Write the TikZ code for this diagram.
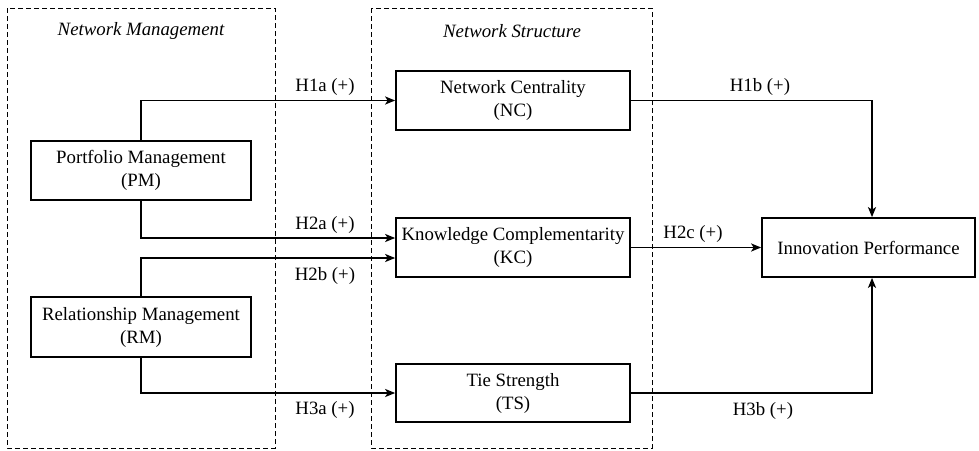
\documentclass[tikz,border=0pt]{standalone}
\usepackage{fontspec}
\setmainfont{Liberation Serif}
\newfontfamily\tnr{Liberation Serif}
\usetikzlibrary{arrows.meta}
\begin{document}
\begin{tikzpicture}[x=1pt,y=-1pt,
  box/.style={draw,line width=1.7pt,align=center,inner sep=0pt,font=\tnr\fontsize{18.8}{23}\selectfont},
  grp/.style={draw,line width=0.9pt,dash pattern=on 5pt off 3pt},
  arr/.style={line width=1.8pt,-{Stealth[length=10pt,width=8pt,inset=2.5pt]}},
  lbl/.style={font=\tnr\fontsize{18.8}{23}\selectfont,inner sep=0pt},
  ttl/.style={font=\tnr\fontsize{18.8}{23}\selectfont\itshape,inner sep=0pt}]
\useasboundingbox (0,0) rectangle (979,450);
\draw[grp] (7,8) rectangle (275,448);
\draw[grp] (371,8) rectangle (652,448);
\node[ttl] (t1) at (141,31) {Network Management};
\node[ttl] (t2) at (512,31) {Network Structure};
\node[box,minimum width=220pt,minimum height=59pt] (PM) at (141,170.5) {Portfolio Management\\(PM)};
\node[box,minimum width=220pt,minimum height=60pt] (RM) at (141,327) {Relationship Management\\(RM)};
\node[box,minimum width=234pt,minimum height=59pt] (NC) at (513,100.5) {Network Centrality\\(NC)};
\node[box,minimum width=234pt,minimum height=59pt] (KC) at (513,247.5) {Knowledge Complementarity\\(KC)};
\node[box,minimum width=234pt,minimum height=58pt] (TS) at (513,393) {Tie Strength\\(TS)};
\node[box,minimum width=213pt,minimum height=59pt] (IP) at (868.5,247.5) {Innovation Performance};
\draw[arr] (PM.north) |- (NC.west);
\draw[arr] (PM.south) |- ([yshift=9.5pt]KC.west);
\draw[arr] (RM.north) |- ([yshift=-10.5pt]KC.west);
\draw[arr] (RM.south) |- (TS.west);
\draw[arr] (NC.east) -| ([xshift=3.5pt]IP.north);
\draw[arr] (KC.east) -- (IP.west);
\draw[arr] (TS.east) -| ([xshift=3.5pt]IP.south);
\node[lbl] (l1) at (325,87) {H1a (+)};
\node[lbl] (l2) at (325,225) {H2a (+)};
\node[lbl] (l3) at (325,276) {H2b (+)};
\node[lbl] (l4) at (325,410) {H3a (+)};
\node[lbl] (l5) at (760,87) {H1b (+)};
\node[lbl] (l6) at (693,234) {H2c (+)};
\node[lbl] (l7) at (763,411) {H3b (+)};
\end{tikzpicture}
\end{document}
